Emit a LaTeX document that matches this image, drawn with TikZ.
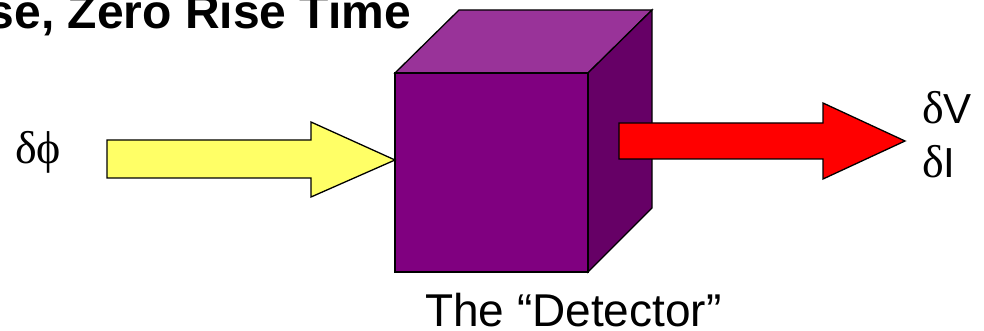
\documentclass[tikz,border=0pt]{standalone}
\usepackage{fontspec}
\setmainfont{Liberation Sans}
\newfontfamily\grk{Liberation Serif}
\definecolor{cubefront}{HTML}{800080}
\definecolor{cubetop}{HTML}{993399}
\definecolor{cubeside}{HTML}{660066}
\definecolor{arrowin}{HTML}{FFFF66}
\definecolor{arrowout}{HTML}{FF0000}
\begin{document}
\begin{tikzpicture}[x=1pt,y=-1pt,
  outl/.style={draw=black,line width=1.3pt,line join=miter},
  lbl/.style={inner sep=0pt,outer sep=0pt}]
\useasboundingbox (0,0) rectangle (984,331);
% cube corners
\coordinate (fa) at (395,73);
\coordinate (fb) at (588,73);
\coordinate (fc) at (588,272);
\coordinate (fd) at (395,272);
\coordinate (ta) at (459,10);
\coordinate (tb) at (652,10);
\coordinate (tc) at (652,208);
\filldraw[outl,fill=cubetop] (fa) -- (ta) -- (tb) -- (fb) -- cycle;
\filldraw[outl,fill=cubeside] (fb) -- (tb) -- (tc) -- (fc) -- cycle;
\filldraw[outl,fill=cubefront] (fa) rectangle (fc);
% input arrow
\filldraw[outl,fill=arrowin] (107,140) -- (311,140) -- (311,122) -- (395,160)
  -- (311,197) -- (311,178) -- (107,178) -- cycle;
% output arrow
\filldraw[outl,fill=arrowout] (619,123) -- (823,123) -- (823,103) -- (905,141)
  -- (823,179) -- (823,159) -- (619,159) -- cycle;
% texts
\node[lbl,anchor=base east] (title) at (411,29)
  {\fontsize{48}{56}\selectfont\bfseries se, Zero Rise Time};
\node[lbl,anchor=base west] (det) at (425,326)
  {\fontsize{46}{55}\selectfont The “Detector”};
\node[lbl,anchor=base west] (phi) at (15,164)
  {\fontsize{46}{52}\selectfont\grk δϕ};
\node[lbl,anchor=base west] (dv) at (922,124)
  {\fontsize{42}{48}\selectfont{\grk\fontsize{46}{48}\selectfont δ}V};
\node[lbl,anchor=base west] (di) at (922,178)
  {\fontsize{42}{48}\selectfont{\grk\fontsize{46}{48}\selectfont δ}I};
\end{tikzpicture}
\end{document}
